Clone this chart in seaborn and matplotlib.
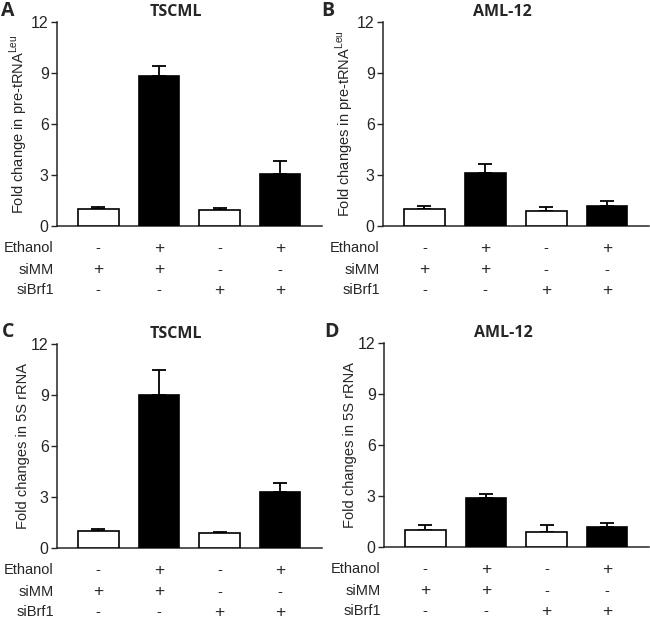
import numpy as np
import pandas as pd
import seaborn as sns
import matplotlib.pyplot as plt
import matplotlib.transforms as mtransforms

# treatment table under each panel
conditions = ['g1', 'g2', 'g3', 'g4']
ethanol = ['-', '+', '-', '+']
simm = ['+', '+', '-', '-']
sibrf1 = ['-', '-', '+', '+']

# panel values (mean and upper SEM)
a_mean = [1.02, 8.82, 0.94, 3.05]
a_err = [0.12, 0.57, 0.14, 0.78]
b_mean = [1.02, 3.10, 0.90, 1.20]
b_err = [0.18, 0.57, 0.20, 0.25]
c_mean = [1.00, 9.01, 0.89, 3.29]
c_err = [0.10, 1.48, 0.07, 0.53]
d_mean = [0.99, 2.88, 0.89, 1.16]
d_err = [0.33, 0.26, 0.41, 0.24]

sns.set_style('ticks')
plt.rcParams['font.family'] = ['Liberation Sans', 'DejaVu Sans']
plt.rcParams['mathtext.fontset'] = 'custom'
plt.rcParams['mathtext.rm'] = 'Liberation Sans'

fig = plt.figure(figsize=(6.5, 6.19), dpi=100)
H = 619.0
W = 650.0


def add_axes(left, right, top, bottom):
    return fig.add_axes([left / W, 1 - bottom / H, (right - left) / W, (bottom - top) / H])


def panel(ax, means, errs, title, ylabel):
    df = pd.DataFrame({'cond': conditions, 'value': means, 'ethanol': ethanol})
    sns.barplot(data=df, x='cond', y='value', hue='ethanol',
                palette={'-': 'white', '+': 'black'}, dodge=False,
                width=0.67, edgecolor='black', linewidth=1.2,
                legend=False, ax=ax, zorder=3)
    ax.errorbar(np.arange(len(means)), means,
                yerr=[np.zeros(len(errs)), errs], fmt='none',
                ecolor='black', elinewidth=1.3, capsize=5.2, capthick=1.3, zorder=2)
    ax.set_xlim(-0.68, 3.69)
    ax.set_ylim(0, 12)
    ax.set_yticks([0, 3, 6, 9, 12])
    ax.tick_params(axis='y', labelsize=11.5, length=4, width=1, pad=2)
    ax.set_xticks([])
    ax.set_xlabel('')
    ax.set_ylabel(ylabel, fontsize=10.5, labelpad=1)
    sns.despine(ax=ax)
    for s in ['left', 'bottom']:
        ax.spines[s].set_linewidth(1.1)

    tr = mtransforms.blended_transform_factory(ax.transData, ax.transAxes)
    rows = [('Ethanol', ethanol, -0.108), ('siMM', simm, -0.214), ('siBrf1', sibrf1, -0.316)]
    for name, syms, yy in rows:
        ax.text(-0.012, yy, name, transform=ax.transAxes, ha='right', va='center', fontsize=10.5)
        for i, s in enumerate(syms):
            ax.text(i, yy, s, transform=tr, ha='center', va='center',
                    fontsize=12.5 if s == '+' else 10.5)

    ax.text(0.45, 1.05, title, transform=ax.transAxes, ha='center', va='center',
            fontsize=11.5, fontweight='bold', family=['Open Sans', 'DejaVu Sans'])


ylab_a = 'Fold change in pre-tRNA$^{\\mathrm{Leu}}$'
ylab_b = 'Fold changes in pre-tRNA$^{\\mathrm{Leu}}$'
ylab_c = 'Fold changes in 5S rRNA'

ax_a = add_axes(57, 322, 22, 226)
ax_b = add_axes(383, 649, 22, 226)
ax_c = add_axes(57, 322, 344, 548)
ax_d = add_axes(384, 649, 343, 547)

panel(ax_a, a_mean, a_err, 'TSCML', ylab_a)
panel(ax_b, b_mean, b_err, 'AML-12', ylab_b)
panel(ax_c, c_mean, c_err, 'TSCML', ylab_c)
panel(ax_d, d_mean, d_err, 'AML-12', ylab_c)

# panel letters
for letter, px, py in [('A', 1, 1), ('B', 321, 1), ('C', 2, 322), ('D', 324, 322)]:
    fig.text(px / W, 1 - py / H, letter, ha='left', va='top', fontsize=14,
             fontweight='bold', family=['Open Sans', 'DejaVu Sans'])

fig.savefig('out.png', dpi=100)
